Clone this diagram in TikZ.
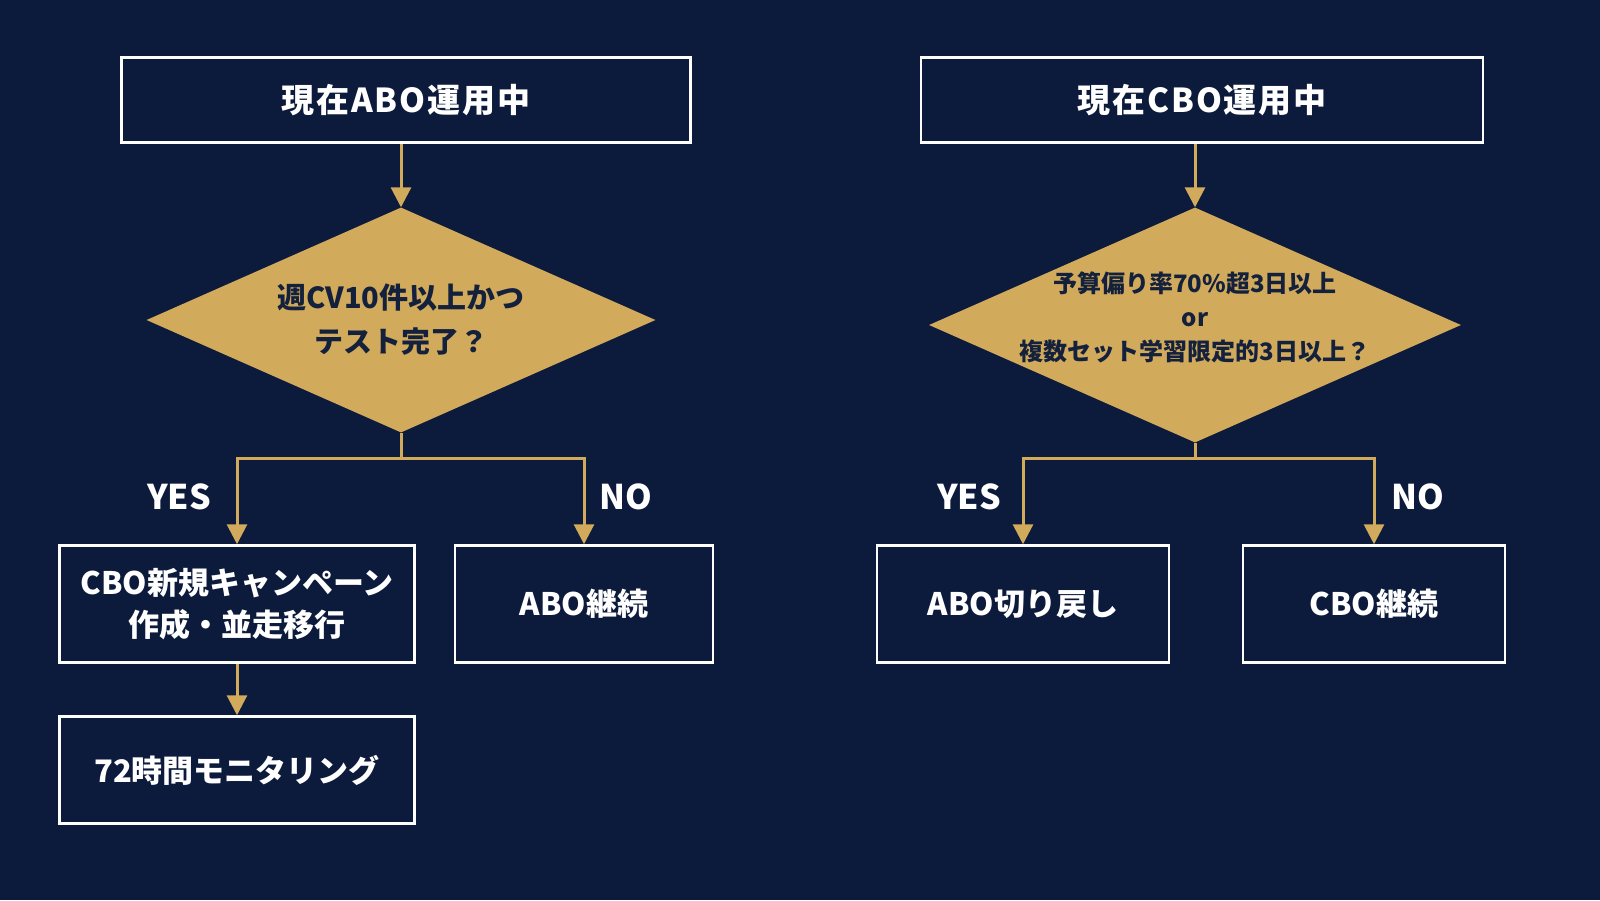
\documentclass[tikz,border=0pt]{standalone}
\usepackage{fontspec}
\setmainfont{Noto Sans CJK JP}
\usetikzlibrary{shapes.geometric,arrows.meta}
\definecolor{navy}{HTML}{0C1A3B}
\definecolor{gold}{HTML}{D2AA5C}
\definecolor{ink}{HTML}{14213D}

\begin{document}
\begin{tikzpicture}[x=1pt,y=-1pt,
    box/.style={draw=white,line width=2.5pt,fill=navy,text=white,align=center,inner sep=0pt,
      font=\bfseries\fontsize{31}{42}\selectfont},
    startbox/.style={box,minimum height=85pt,
      font=\bfseries\fontsize{33}{40}\selectfont\addfontfeature{LetterSpace=6}},
    decision/.style={diamond,aspect=2.26,fill=gold,text=ink,align=center,inner sep=0pt},
    answer/.style={text=white,font=\bfseries\fontsize{34}{40}\selectfont},
    flow/.style={draw=gold,line width=3pt,-{Triangle[width=20pt,length=20pt]}},
    branch/.style={draw=gold,line width=3pt}]
  \fill[navy] (0,0) rectangle (1600,900);
  \useasboundingbox (0,0) rectangle (1600,900);

  % ABO side
  \node[startbox,minimum width=569pt](abo) at (406,100) {現在ABO運用中};
  \node[decision,minimum width=509pt,minimum height=225pt,
    font=\bfseries\fontsize{29}{44}\selectfont](abotest) at (401,320) {週CV10件以上かつ\\テスト完了？};
  \node[box,minimum width=355pt,minimum height=117pt](cbonew) at (237,604) {CBO新規キャンペーン\\作成・並走移行};
  \node[box,minimum width=258pt,minimum height=117pt](abokeep) at (584,604) {ABO継続};
  \node[box,minimum width=355pt,minimum height=107pt](monitor) at (237,770) {72時間モニタリング};
  \node[answer](aboyes) at (179,497) {YES};
  \node[answer](abono) at (626,497) {NO};
  \draw[flow] (abotest.north |- abo.south) -- (abotest.north);
  \draw[branch] (abotest.south) -- ++(0,26) coordinate(abofork);
  \draw[flow] (abofork) -| (cbonew.north);
  \draw[flow] (abofork) -| (abokeep.north);
  \draw[flow] (cbonew) -- (monitor);

  % CBO side
  \node[startbox,minimum width=562pt](cbo) at (1202,100) {現在CBO運用中};
  \node[decision,minimum width=532pt,minimum height=235pt,inner xsep=-40pt,
    font=\bfseries\fontsize{24}{34}\selectfont](cbotest) at (1195,325)
    {予算偏り率70\%超3日以上\\or\\複数セット学習限定的3日以上？\rule[-17pt]{0pt}{17pt}};
  \node[box,minimum width=292pt,minimum height=117pt](aboback) at (1023,604) {ABO切り戻し};
  \node[box,minimum width=262pt,minimum height=117pt](cbokeep) at (1374,604) {CBO継続};
  \node[answer](cboyes) at (969,497) {YES};
  \node[answer](cbono) at (1418,497) {NO};
  \draw[flow] (cbotest.north |- cbo.south) -- (cbotest.north);
  \draw[branch] (cbotest.south) -- ++(0,16) coordinate(cbofork);
  \draw[flow] (cbofork) -| (aboback.north);
  \draw[flow] (cbofork) -| (cbokeep.north);
\end{tikzpicture}
\end{document}
